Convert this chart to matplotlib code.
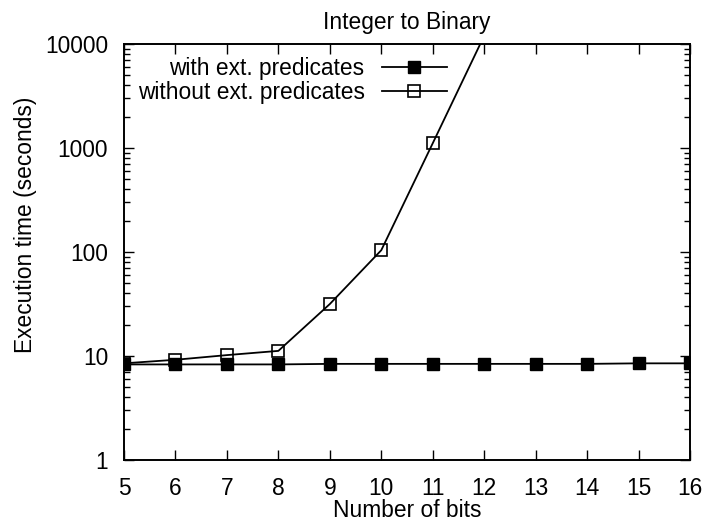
import matplotlib
matplotlib.use("Agg")
import matplotlib.pyplot as plt
from matplotlib.ticker import LogLocator, NullFormatter, FixedLocator

# data
bits_with = [5, 6, 7, 8, 9, 10, 11, 12, 13, 14, 15, 16]
time_with = [8.3, 8.3, 8.3, 8.3, 8.4, 8.4, 8.4, 8.4, 8.4, 8.4, 8.5, 8.5]
bits_without = [5, 6, 7, 8, 9, 10, 11, 12]
time_without = [8.5, 9.2, 10.2, 11.2, 31.6, 104, 1110, 12000]
y_ticks = [1, 10, 100, 1000, 10000]
y_tick_labels = ["1", "10", "100", "1000", "10000"]

plt.rcParams["font.family"] = ["Liberation Sans", "DejaVu Sans"]
plt.rcParams["font.size"] = 16.4

fig = plt.figure(figsize=(7.05, 5.30), dpi=100)
ax = fig.add_axes([124 / 705, 1 - 460 / 530, 566 / 705, 416 / 530])

ax.plot(bits_with, time_with, color="black", linewidth=1.3, marker="s",
        markersize=8, markerfacecolor="black", markeredgecolor="black",
        label="with ext. predicates")
ax.plot(bits_without, time_without, color="black", linewidth=1.3, marker="s",
        markersize=8, markerfacecolor="none", markeredgecolor="black",
        markeredgewidth=1.2, label="without ext. predicates")

ax.set_yscale("log")
ax.set_xlim(5, 16)
ax.set_ylim(1, 10000)
ax.xaxis.set_major_locator(FixedLocator(bits_with))
ax.yaxis.set_major_locator(FixedLocator(y_ticks))
ax.set_yticklabels(y_tick_labels)
ax.yaxis.set_minor_locator(LogLocator(base=10, subs=range(2, 10)))
ax.yaxis.set_minor_formatter(NullFormatter())

ax.tick_params(which="both", direction="in", top=True, right=True, width=1.0)
ax.tick_params(which="major", length=7.5)
ax.tick_params(which="minor", length=4.5)
ax.tick_params(axis="x", pad=12.5)
ax.tick_params(axis="y", pad=11.5)
for sp in ax.spines.values():
    sp.set_linewidth(1.4)

ax.set_title("Integer to Binary", fontsize=16.4, pad=11)
ax.set_xlabel("Number of bits", labelpad=-1)
ax.set_ylabel("Execution time (seconds)")
ax.yaxis.set_label_coords(-0.154, 0.565)

# gnuplot-style key: label on the left, sample on the right, no frame
ax.legend(loc="upper right", bbox_to_anchor=(0.570, 0.968), frameon=False,
          markerfirst=False, numpoints=1, handlelength=2.85,
          handletextpad=0.75, labelspacing=0.05, borderpad=0,
          borderaxespad=0)

fig.savefig("out.png", dpi=100)
